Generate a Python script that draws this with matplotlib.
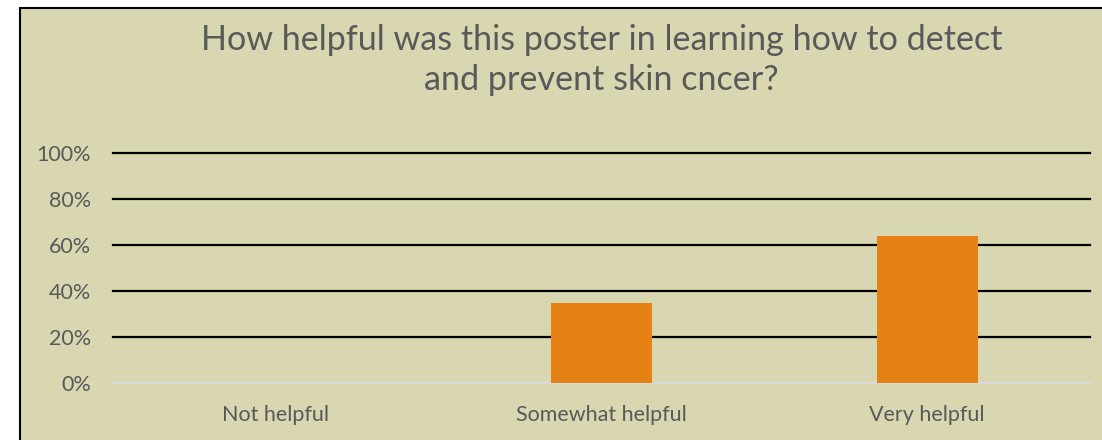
import matplotlib.pyplot as plt
from matplotlib.patches import Rectangle
from matplotlib.ticker import PercentFormatter

categories = ["Not helpful", "Somewhat helpful", "Very helpful"]
shares = [0.0, 0.35, 0.64]
y_ticks = [0.0, 0.2, 0.4, 0.6, 0.8, 1.0]
title = "How helpful was this poster in learning how to detect\nand prevent skin cncer?"

bg = "#D9D7B1"
bar_color = "#E68213"
text_color = "#595959"

plt.rcParams["font.family"] = ["Lato", "DejaVu Sans"]

fig = plt.figure(figsize=(11.02, 4.4), dpi=100, facecolor="white")
# chart area panel with dark border, cropped on the right and bottom
panel = Rectangle((20 / 1102, -0.05), 1.2, 0.05 + 432 / 440, transform=fig.transFigure,
                  facecolor=bg, edgecolor="black", linewidth=1.5, zorder=-1)
fig.patches.append(panel)

ax = fig.add_axes([113 / 1102, 1 - 383 / 440, 977 / 1102, 230 / 440])
ax.set_facecolor("none")
x = range(len(categories))
ax.bar(x, shares, width=0.31, color=bar_color, zorder=3)

ax.set_ylim(0, 1)
ax.set_xlim(-0.5, len(categories) - 0.5)
ax.set_yticks(y_ticks)
ax.yaxis.set_major_formatter(PercentFormatter(1.0, decimals=0))
ax.set_xticks(list(x))
ax.set_xticklabels(categories)
ax.tick_params(axis="both", length=0, labelsize=15.5, colors=text_color)
ax.tick_params(axis="y", pad=16)
ax.tick_params(axis="x", pad=16)

for v in y_ticks[1:]:
    ax.axhline(v, color="black", linewidth=1.6, zorder=1, clip_on=False)
ax.axhline(0, color="#D9D9D9", linewidth=1.6, zorder=2, clip_on=False)

for s in ax.spines.values():
    s.set_visible(False)

fig.text(ax.get_position().x0 + ax.get_position().width / 2, 1 - 24 / 440, title,
         ha="center", va="top", fontsize=24.6, color=text_color, linespacing=1.3)

fig.savefig("out.png", dpi=100, facecolor="white")
